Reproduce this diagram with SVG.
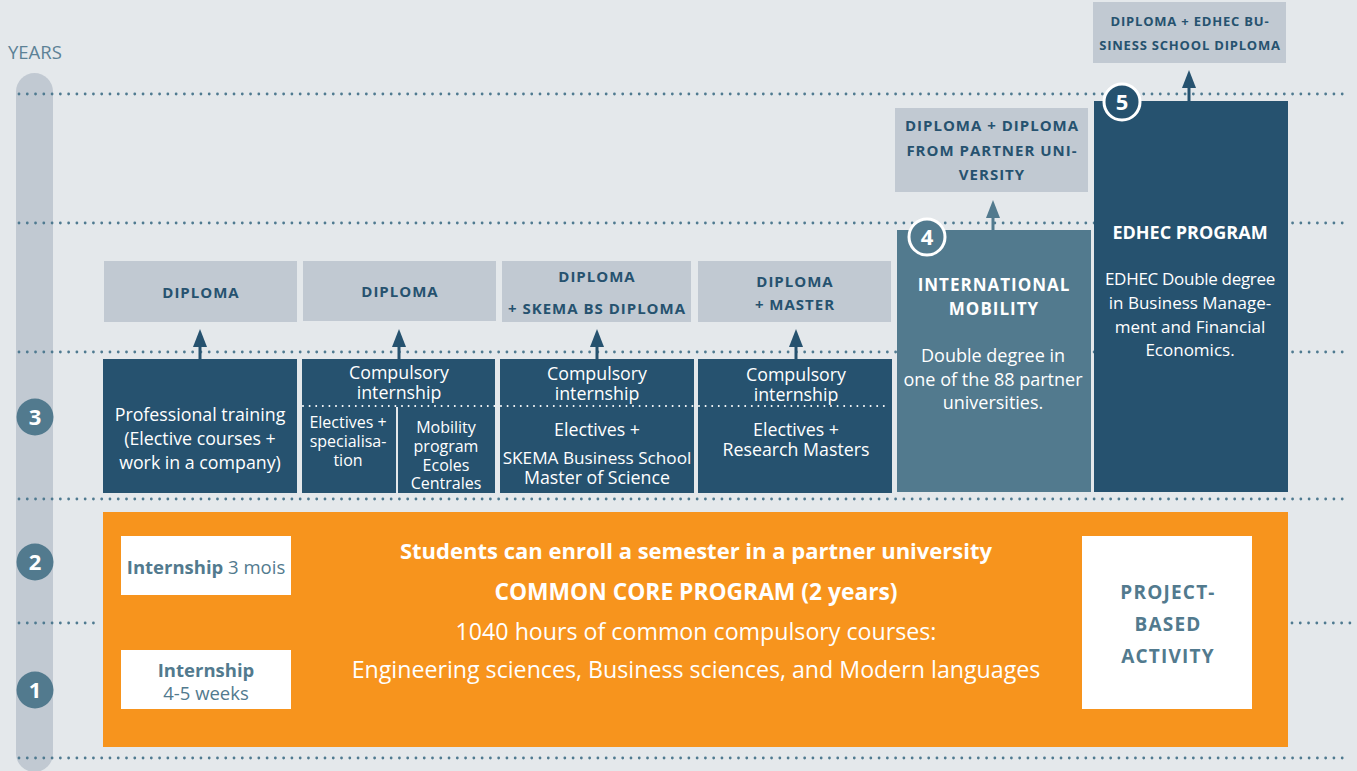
<svg xmlns="http://www.w3.org/2000/svg" width="1357" height="771" viewBox="0 0 1357 771">
<style>
text{font-family:"Open Sans","Noto Sans",sans-serif}
.dots{stroke:#4f7a90;stroke-width:2.8;stroke-linecap:round;stroke-dasharray:0 8.27;fill:none}
.wdots{stroke:#ffffff;stroke-width:2;stroke-linecap:round;stroke-dasharray:0 6.6;fill:none}
.dip{fill:#c1c9d2}
.dark{fill:#26526f}
.mid{fill:#527a8e}
.diptx{fill:#26526f;font-weight:700;font-size:15px;letter-spacing:1px;text-anchor:middle}
.wt{fill:#ffffff;font-size:17.8px;text-anchor:middle}
.wts{fill:#ffffff;font-size:16px;text-anchor:middle}
.yr{fill:#527a8e}
.yrtx{fill:#ffffff;font-weight:700;font-size:22px;text-anchor:middle}
.ortx{fill:#ffffff;text-anchor:middle}
.bl{fill:#527a8e;text-anchor:middle}
.arr{stroke:#26526f;stroke-width:3}
.arrm{stroke:#527a8e;stroke-width:3}
</style>
<defs>
<marker id="ah" viewBox="0 0 18 14" refX="7" refY="7" markerWidth="18" markerHeight="14" markerUnits="userSpaceOnUse" orient="auto">
<path d="M0,0 L18,7 L0,14 z" fill="#26526f"/>
</marker>
<marker id="ahm" viewBox="0 0 18 14" refX="7" refY="7" markerWidth="18" markerHeight="14" markerUnits="userSpaceOnUse" orient="auto">
<path d="M0,0 L18,7 L0,14 z" fill="#527a8e"/>
</marker>
</defs>
<rect width="1357" height="771" fill="#e4e8eb"/>

<g id="years">
<text x="8" y="59" fill="#5c8196" font-size="18.5">YEARS</text>
<rect x="16" y="73" width="37" height="699" rx="18.5" fill="#c1c9d2"/>
</g>

<g id="gridlines">
<line class="dots" x1="19" y1="94" x2="1350" y2="94"/>
<line class="dots" x1="19" y1="223" x2="1350" y2="223"/>
<line class="dots" x1="19" y1="352" x2="1350" y2="352"/>
<line class="dots" x1="19" y1="499" x2="1350" y2="499"/>
<line class="dots" x1="19" y1="623" x2="100" y2="623"/>
<line class="dots" x1="1292" y1="623" x2="1350" y2="623"/>
<line class="dots" x1="19" y1="758" x2="1350" y2="758"/>
</g>

<g id="year-markers">
<circle class="yr" cx="35" cy="417" r="18.5"/><text class="yrtx" x="35" y="425">3</text>
<circle class="yr" cx="35" cy="562" r="18.5"/><text class="yrtx" x="35" y="570">2</text>
<circle class="yr" cx="35" cy="690" r="18.5"/><text class="yrtx" x="35" y="698">1</text>
</g>

<g id="diploma1"><rect class="dip" x="104" y="261" width="193" height="61"/><text class="diptx" x="201" y="298">DIPLOMA</text></g>
<g id="diploma2"><rect class="dip" x="303" y="261" width="193" height="60"/><text class="diptx" x="400" y="297">DIPLOMA</text></g>
<g id="diploma3"><rect class="dip" x="502" y="261" width="189" height="61"/><text class="diptx" x="597" y="282">DIPLOMA</text><text class="diptx" x="597" y="314">+ SKEMA BS DIPLOMA</text></g>
<g id="diploma4"><rect class="dip" x="698" y="261" width="193" height="61"/><text class="diptx" x="795" y="287">DIPLOMA</text><text class="diptx" x="795" y="310">+ MASTER</text></g>
<g id="diploma-intl"><rect class="dip" x="895" y="108" width="193" height="84"/><text class="diptx" x="992" y="131">DIPLOMA + DIPLOMA</text><text class="diptx" x="992" y="156">FROM PARTNER UNI-</text><text class="diptx" x="992" y="180">VERSITY</text></g>
<g id="diploma-edhec"><rect class="dip" x="1093" y="2" width="193" height="61"/><text class="diptx" x="1190" y="26" style="font-size:13px;letter-spacing:0.8px">DIPLOMA + EDHEC BU-</text><text class="diptx" x="1190" y="50" style="font-size:13px;letter-spacing:0.8px">SINESS SCHOOL DIPLOMA</text></g>

<g id="connectors">
<line class="arr" x1="200" y1="359" x2="200" y2="340" marker-end="url(#ah)"/>
<line class="arr" x1="399" y1="359" x2="399" y2="340" marker-end="url(#ah)"/>
<line class="arr" x1="597" y1="359" x2="597" y2="340" marker-end="url(#ah)"/>
<line class="arr" x1="796" y1="359" x2="796" y2="340" marker-end="url(#ah)"/>
<line class="arrm" x1="993" y1="230" x2="993" y2="211" marker-end="url(#ahm)"/>
<line class="arr" x1="1189" y1="101" x2="1189" y2="81" marker-end="url(#ah)"/>
</g>

<g id="professional-training">
<rect class="dark" x="103" y="359" width="194" height="134"/>
<text class="wt" x="200" y="421">Professional training</text>
<text class="wt" x="200" y="445">(Elective courses +</text>
<text class="wt" x="200" y="469">work in a company)</text>
</g>

<g id="electives-mobility">
<rect class="dark" x="302" y="359" width="193" height="134"/>
<text class="wt" x="399" y="379" font-size="17.5">Compulsory</text>
<text class="wt" x="399" y="399" font-size="17.5">internship</text>
<line x1="397" y1="407" x2="397" y2="493" stroke="#e4e8eb" stroke-width="2"/>
<text class="wts" x="348" y="428">Electives +</text>
<text class="wts" x="348" y="447">specialisa-</text>
<text class="wts" x="348" y="466">tion</text>
<text class="wts" x="446" y="433">Mobility</text>
<text class="wts" x="446" y="452">program</text>
<text class="wts" x="446" y="471">Ecoles</text>
<text class="wts" x="446" y="489">Centrales</text>
</g>

<g id="skema">
<rect class="dark" x="500" y="359" width="194" height="134"/>
<text class="wt" x="597" y="380" font-size="17.5">Compulsory</text>
<text class="wt" x="597" y="400" font-size="17.5">internship</text>
<text class="wt" x="597" y="436">Electives +</text>
<text class="wt" x="597" y="464" style="font-size:17.2px">SKEMA Business School</text>
<text class="wt" x="597" y="484">Master of Science</text>
</g>

<g id="research">
<rect class="dark" x="698" y="359" width="194" height="134"/>
<text class="wt" x="796" y="381" font-size="17.5">Compulsory</text>
<text class="wt" x="796" y="401" font-size="17.5">internship</text>
<text class="wt" x="796" y="436">Electives +</text>
<text class="wt" x="796" y="456">Research Masters</text>
</g>

<line class="wdots" x1="303" y1="406" x2="890" y2="406"/>

<g id="international-mobility">
<rect class="mid" x="897" y="230" width="194" height="262"/>
<circle cx="927" cy="237" r="18" fill="#527a8e" stroke="#ffffff" stroke-width="3"/>
<text class="yrtx" x="927" y="245">4</text>
<text class="wt" x="994" y="291" style="font-weight:700;font-size:17px;letter-spacing:1px">INTERNATIONAL</text>
<text class="wt" x="994" y="315" style="font-weight:700;font-size:17px;letter-spacing:1px">MOBILITY</text>
<text class="wt" x="993" y="362" style="font-size:18px">Double degree in</text>
<text class="wt" x="993" y="386" style="font-size:18px">one of the 88 partner</text>
<text class="wt" x="993" y="409" style="font-size:18px">universities.</text>
</g>

<g id="edhec-program">
<rect class="dark" x="1094" y="101" width="194" height="391"/>
<circle cx="1122" cy="102" r="18" fill="#26526f" stroke="#ffffff" stroke-width="3"/>
<text class="yrtx" x="1122" y="110">5</text>
<text class="wt" x="1190" y="239" style="font-weight:700;font-size:18px">EDHEC PROGRAM</text>
<text class="wt" x="1190" y="285" style="font-size:17px;letter-spacing:-0.3px">EDHEC Double degree</text>
<text class="wt" x="1190" y="309" style="font-size:17px">in Business Manage-</text>
<text class="wt" x="1190" y="333" style="font-size:17px">ment and Financial</text>
<text class="wt" x="1190" y="356" style="font-size:17px">Economics.</text>
</g>

<g id="common-core">
<rect x="103" y="512" width="1185" height="235" fill="#f7941d"/>
<text class="ortx" x="696" y="559" style="font-weight:700;font-size:22px">Students can enroll a semester in a partner university</text>
<text class="ortx" x="696" y="600" style="font-weight:700;font-size:22.8px">COMMON CORE PROGRAM (2 years)</text>
<text class="ortx" x="696" y="640" style="font-size:23.2px">1040 hours of common compulsory courses:</text>
<text class="ortx" x="696" y="678" style="font-size:23.2px">Engineering sciences, Business sciences, and Modern languages</text>
</g>

<g id="internship-3-mois">
<rect x="121" y="536" width="170" height="59" fill="#ffffff"/>
<text class="bl" x="206" y="574" style="font-size:18.5px"><tspan font-weight="700">Internship</tspan> 3 mois</text>
</g>

<g id="internship-4-5-weeks">
<rect x="121" y="650" width="170" height="59" fill="#ffffff"/>
<text class="bl" x="206" y="677" style="font-size:18.5px;font-weight:700">Internship</text>
<text class="bl" x="206" y="700" style="font-size:18.5px">4-5 weeks</text>
</g>

<g id="project-based-activity">
<rect x="1082" y="536" width="170" height="173" fill="#ffffff"/>
<text class="bl" x="1168" y="599" style="font-size:19px;font-weight:700;letter-spacing:1.2px">PROJECT-</text>
<text class="bl" x="1168" y="631" style="font-size:19px;font-weight:700;letter-spacing:1.2px">BASED</text>
<text class="bl" x="1168" y="663" style="font-size:19px;font-weight:700;letter-spacing:1.2px">ACTIVITY</text>
</g>
</svg>
